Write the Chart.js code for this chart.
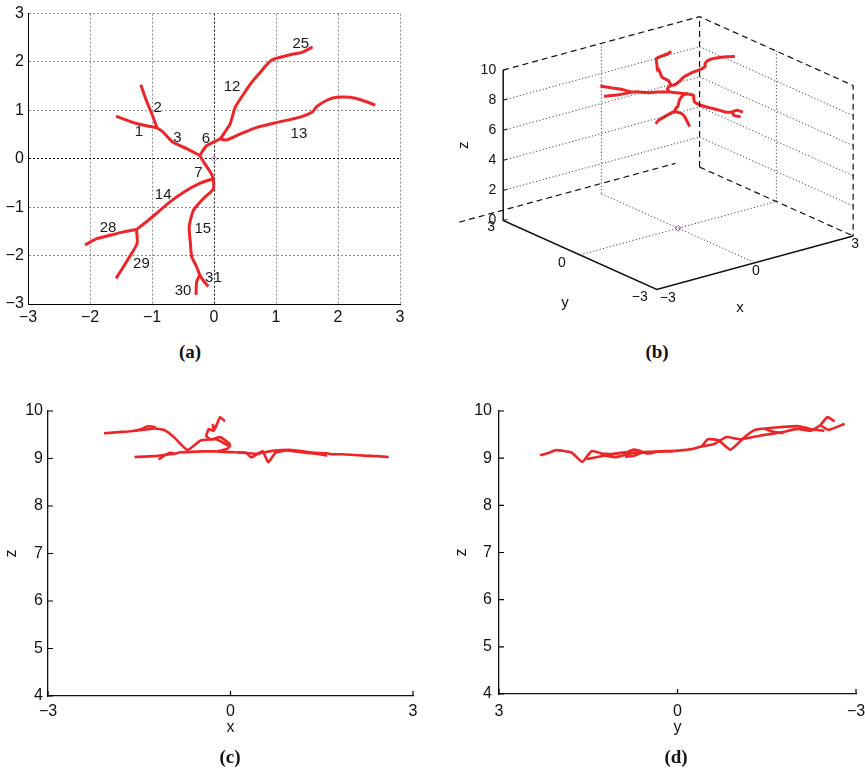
<!DOCTYPE html>
<html><head><meta charset="utf-8">
<script src="https://cdn.jsdelivr.net/npm/chart.js@4"></script>
<style>
body{margin:0;background:#fff;width:865px;height:773px;position:relative;overflow:hidden}
canvas{position:absolute}
.t{position:absolute;font-family:"Liberation Serif","Times New Roman",serif;font-weight:bold;font-size:19px;transform:translate(-50%,-50%);color:#111}
</style></head><body>
<canvas id="ca" width="430" height="340" style="left:0;top:0"></canvas>
<canvas id="cb" width="435" height="340" style="left:430px;top:0"></canvas>
<canvas id="cc" width="430" height="383" style="left:0;top:390px"></canvas>
<canvas id="cd" width="415" height="383" style="left:450px;top:390px"></canvas>
<div class="t" style="left:190px;top:352px">(a)</div>
<div class="t" style="left:657px;top:352px">(b)</div>
<div class="t" style="left:230px;top:757px">(c)</div>
<div class="t" style="left:676px;top:757px">(d)</div>
<script>
// ---------------- data ----------------
const x1=[-1.58,-1.25,-0.92], y1=[0.88,0.73,0.64], z1=[9.03,9.05,9.10];
const x2=[-1.18,-1.09,-0.99,-0.92], y2=[1.53,1.20,0.89,0.64], z2=[8.98,9.06,9.12,9.10];
const x3=[-0.92,-0.82,-0.66,-0.44,-0.23], y3=[0.64,0.55,0.34,0.21,0.07], z3=[9.10,9.13,9.14,9.15,9.15];
const x6=[-0.23,-0.12,0.10], y6=[0.07,0.27,0.41], z6=[9.15,9.14,9.13];
const x12=[0.10,0.26,0.34,0.53,0.62,0.74,0.93,1.23,1.42,1.59], y12=[0.41,0.72,1.06,1.44,1.60,1.78,2.04,2.15,2.20,2.31], z12=[9.13,9.12,9.02,9.15,8.92,9.12,9.17,9.12,9.10,9.06];
const x13=[0.10,0.20,0.42,0.69,1.01,1.39,1.58,1.66,1.82,1.98,2.20,2.41,2.60], y13=[0.41,0.39,0.51,0.65,0.75,0.86,0.96,1.08,1.21,1.27,1.27,1.20,1.11], z13=[9.13,9.12,9.10,9.16,9.18,9.12,9.11,9.09,9.09,9.08,9.06,9.05,9.03];
const x7=[-0.23,-0.15,-0.06,-0.01], y7=[0.07,-0.10,-0.27,-0.41], z7=[9.15,9.17,9.20,9.25];
const x14=[-0.01,-0.23,-0.49,-0.71,-0.93,-1.09,-1.25], y14=[-0.41,-0.51,-0.69,-0.89,-1.13,-1.30,-1.46], z14=[9.25,9.40,9.38,9.18,9.45,9.60,9.63];
const x28=[-1.25,-1.46,-1.68,-1.89,-2.08], y28=[-1.46,-1.51,-1.58,-1.65,-1.78], z28=[9.63,9.60,9.57,9.55,9.53];
const x29=[-1.25,-1.24,-1.36,-1.46,-1.58], y29=[-1.46,-1.75,-2.02,-2.23,-2.47], z29=[9.63,9.66,9.68,9.62,9.58];
const x15=[-0.01,-0.01,-0.17,-0.33,-0.40,-0.38,-0.36,-0.28,-0.23,-0.17,-0.09], y15=[-0.41,-0.62,-0.82,-1.06,-1.40,-1.75,-2.02,-2.23,-2.40,-2.52,-2.64], z15=[9.25,9.30,9.45,9.40,9.48,9.55,9.62,9.58,9.70,9.87,9.78];
const x30=[-0.23,-0.28,-0.29], y30=[-2.40,-2.54,-2.81], z30=[9.70,9.60,9.73];

const labelText=['25','12','2','1','3','6','13','7','14','28','15','29','31','30'];
const labelX=[1.40,0.29,-0.91,-1.21,-0.59,-0.13,1.37,-0.25,-0.82,-1.71,-0.18,-1.17,-0.01,-0.50];
const labelY=[2.37,1.49,1.05,0.55,0.43,0.41,0.51,-0.29,-0.74,-1.43,-1.45,-2.17,-2.45,-2.72];

const planTicks=[-3,-2,-1,0,1,2,3];
const sideTicksH=[-3,0,3];
const sideTicksZ=[4,5,6,7,8,9,10];
const cubeZTicks=[0,2,4,6,8,10];
const cubeXYTicks=[-3,0,3];

// ---------------- helpers ----------------
const branches=[[x1,y1,z1],[x2,y2,z2],[x3,y3,z3],[x6,y6,z6],[x12,y12,z12],[x13,y13,z13],[x7,y7,z7],[x14,y14,z14],[x28,y28,z28],[x29,y29,z29],[x15,y15,z15],[x30,y30,z30]];
const RED='rgb(236,38,40)';
const FAM='"Liberation Sans", Arial, Helvetica, sans-serif';
const fmt=v=>String(v).replace('-','\u2212');
const setTicks=arr=>s=>{s.ticks=arr.map(v=>({value:v}));};
const base={responsive:false,animation:false,events:[],plugins:{legend:{display:false},tooltip:{enabled:false}}};

// ---------------- (a) ----------------
const labelPlugin={id:'lbl',afterDatasetsDraw(c){const {ctx,scales:{x,y}}=c;ctx.save();ctx.font='15px '+FAM;ctx.fillStyle='#1a1a1a';ctx.textAlign='center';ctx.textBaseline='middle';
 labelText.forEach((t,i)=>ctx.fillText(t,x.getPixelForValue(labelX[i]),y.getPixelForValue(labelY[i])));ctx.restore();}};
const gridCol=c=>c.tick&&c.tick.value===0?'#111':'#8a8a8a';
const planAxis=(fit)=>({type:'linear',min:-3,max:3,afterBuildTicks:setTicks(planTicks),afterFit:fit,
  grid:{color:gridCol,lineWidth:1,drawTicks:false},border:{display:true,color:'#000',width:1,dash:[2,2]},
  ticks:{padding:4,font:{size:16,family:FAM},color:'#111',callback:fmt,autoSkip:false,maxRotation:0}});
new Chart(document.getElementById('ca'),{type:'scatter',
 data:{datasets:[...branches.map(b=>({data:b[0].map((v,i)=>({x:v,y:b[1][i]})),showLine:true,borderColor:RED,borderWidth:3,pointRadius:0,tension:0.2})),
  {data:[{x:0,y:0}],pointStyle:'rectRot',pointRadius:3,borderColor:'#b070c0',backgroundColor:'rgba(0,0,0,0)',borderWidth:1}]},
 options:{...base,layout:{padding:{top:12,right:30,left:0,bottom:0}},
  scales:{x:planAxis(s=>{s.height=36;}),y:planAxis(s=>{s.width=28;})}},
 plugins:[labelPlugin]});

// ---------------- (b) 3-D view ----------------
function proj(x,y,z){return {x:33.5*x-26.2*y, y:9.17*x+11.83*y+15.5*z};}
const seg=(pts,color,w,dash)=>({data:pts.map(p=>proj(p[0],p[1],p[2])),showLine:true,borderColor:color,borderWidth:w,borderDash:dash,pointRadius:0});
const segs=[];
const DOT=[1.2,2.2], DASH=[6,4];
[2,4,6,8].forEach(z=>{segs.push(seg([[-3,3,z],[3,3,z]],'#333',0.9,DOT));segs.push(seg([[3,3,z],[3,-3,z]],'#333',0.9,DOT));});
segs.push(seg([[0,3,0],[0,3,10]],'#333',0.9,DOT));
segs.push(seg([[3,0,0],[3,0,10]],'#333',0.9,DOT));
segs.push(seg([[0,3,0],[0,-3,0]],'#333',0.9,DOT));
segs.push(seg([[-3,0,0],[3,0,0]],'#333',0.9,DOT));
segs.push(seg([[-3,3,10],[3,3,10],[3,-3,10],[3,-3,0]],'#111',1.2,DASH));
segs.push(seg([[3,3,0],[3,3,10]],'#111',1.2,DASH));
segs.push(seg([[3,3,0],[3,-3,0]],'#111',1.2,DASH));
segs.push(seg([[-3.9,3.56,0],[2.7,3.56,0]],'#111',1.2,DASH));
segs.push(seg([[-3,3,10],[-3,3,0],[-3,-3,0],[3,-3,0]],'#111',1.5,[]));
const redB=branches.map(b=>({data:b[0].map((v,i)=>proj(v,b[1][i],b[2][i])),showLine:true,borderColor:RED,borderWidth:3,pointRadius:0,tension:0.2}));
const cubeText={id:'cubeText',afterDatasetsDraw(c){const {ctx,scales:{x,y}}=c;
 const P=(a,b,d)=>{const q=proj(a,b,d);return [x.getPixelForValue(q.x),y.getPixelForValue(q.y)];};
 ctx.save();ctx.font='14px '+FAM;ctx.fillStyle='#111';ctx.textBaseline='middle';
 ctx.strokeStyle='#111';ctx.lineWidth=1;
 ctx.textAlign='right';
 cubeZTicks.forEach(z=>{const p=P(-3,3,z);ctx.fillText(fmt(z),p[0]-7,p[1]);ctx.beginPath();ctx.moveTo(p[0],p[1]);ctx.lineTo(p[0]+4,p[1]-1);ctx.stroke();});
 ctx.textAlign='center';
 const yOff=[[-17,8],[-18,8],[-12,7]];
 cubeXYTicks.forEach((v,i)=>{const p=P(-3,v,0);ctx.fillText(fmt(v),p[0]+yOff[i][0],p[1]+yOff[i][1]);});
 const xOff=[[11,9],[1,8],[2,8]];
 cubeXYTicks.forEach((v,i)=>{const p=P(v,-3,0);ctx.fillText(fmt(v),p[0]+xOff[i][0],p[1]+xOff[i][1]);});
 ctx.font='15px '+FAM;
 let p=P(-3,0,0);ctx.fillText('y',p[0]-15,p[1]+48);
 p=P(0,-3,0);ctx.fillText('x',p[0]-15,p[1]+45);
 p=P(-3,3,5);ctx.save();ctx.translate(p[0]-39,p[1]);ctx.rotate(-Math.PI/2);ctx.fillText('z',0,0);ctx.restore();
 ctx.restore();}};
new Chart(document.getElementById('cb'),{type:'scatter',
 data:{datasets:[...segs,...redB,{data:[proj(0,0,0)],pointStyle:'rectRot',pointRadius:3,borderColor:'#b050b0',backgroundColor:'rgba(0,0,0,0)',borderWidth:1}]},
 options:{...base,layout:{padding:0},scales:{x:{type:'linear',display:false,min:-248.9,max:186.1},y:{type:'linear',display:false,min:-110,max:230}}},
 plugins:[cubeText]});

// ---------------- (c) & (d) side views ----------------
const inTicks={id:'inTicks',afterDraw(c){const {ctx,chartArea:a,scales:{x,y}}=c;ctx.save();ctx.strokeStyle='#000';ctx.lineWidth=1.2;ctx.beginPath();
 x.ticks.forEach(t=>{const p=x.getPixelForValue(t.value);ctx.moveTo(p,a.bottom);ctx.lineTo(p,a.bottom-5);});
 y.ticks.forEach(t=>{const p=y.getPixelForValue(t.value);ctx.moveTo(a.left,p);ctx.lineTo(a.left+5,p);});
 ctx.stroke();ctx.restore();}};
function sideChart(id,hIdx,reverse,yW,xH,padR,padT,title,labPadY,labPadX){
 new Chart(document.getElementById(id),{type:'scatter',
  data:{datasets:branches.map(b=>({data:b[hIdx].map((v,i)=>({x:v,y:b[2][i]})),showLine:true,borderColor:RED,borderWidth:2.6,pointRadius:0,tension:0.15}))},
  options:{...base,layout:{padding:{top:padT,right:padR,left:0,bottom:0}},
   scales:{
    x:{type:'linear',min:-3,max:3,reverse:reverse,afterBuildTicks:setTicks(sideTicksH),afterFit:s=>{s.height=xH;},
      grid:{display:false,drawTicks:false},border:{display:true,color:'#111',width:1.3},
      ticks:{padding:labPadX,font:{size:16,family:FAM},color:'#111',callback:fmt,autoSkip:false,maxRotation:0},
      title:{display:true,text:title,font:{size:16,family:FAM},color:'#111',padding:{top:0,bottom:36}}},
    y:{type:'linear',min:4,max:10,afterBuildTicks:setTicks(sideTicksZ),afterFit:s=>{s.width=yW;},
      grid:{display:false,drawTicks:false},border:{display:true,color:'#111',width:1.3},
      ticks:{padding:labPadY,font:{size:16,family:FAM},color:'#111',callback:fmt,autoSkip:false},
      title:{display:true,text:'z',font:{size:16,family:FAM},color:'#111',padding:{top:2,bottom:0}}}}},
  plugins:[inTicks]});
}
sideChart('cc',0,false,48,77,17,21,'x',5,6);
sideChart('cd',1,true,49,79,9,21,'y',7,8);
</script>
</body></html>
